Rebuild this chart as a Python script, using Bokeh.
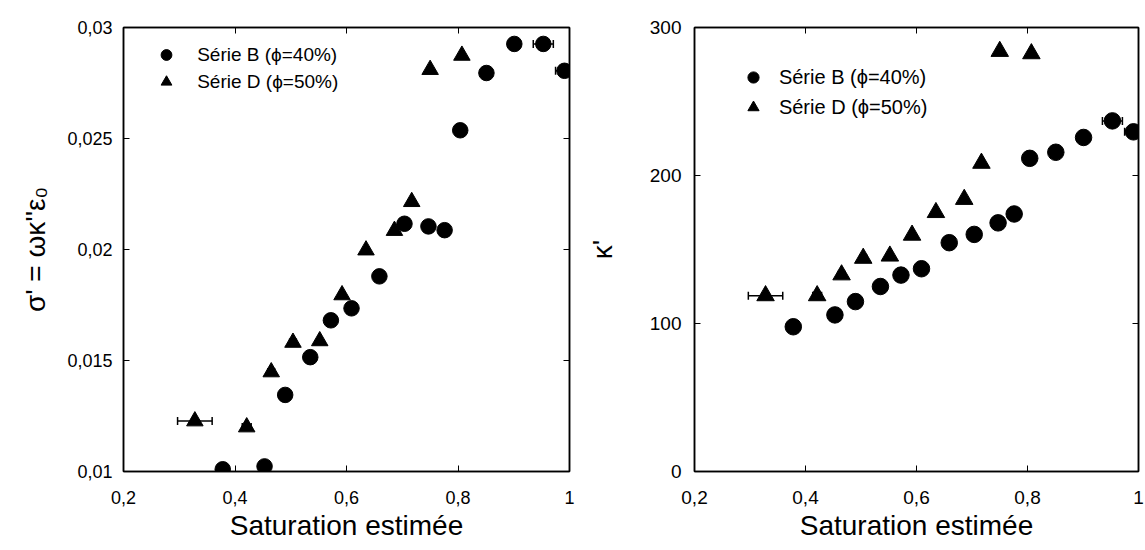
from bokeh.plotting import figure
from bokeh.layouts import row
from bokeh.models import (ColumnDataSource, FixedTicker, LinearAxis, Whisker, TeeHead,
                          Legend, LegendItem, Range1d, CustomJSTickFormatter)
from bokeh.embed import file_html
from bokeh.resources import INLINE

# ---------------- data ----------------
sat_B = [0.378, 0.453, 0.490, 0.535, 0.572, 0.609, 0.659, 0.704, 0.747, 0.776,
         0.804, 0.851, 0.901, 0.953, 0.991]
sat_D = [0.328, 0.421, 0.465, 0.504, 0.552, 0.592, 0.635, 0.686, 0.717, 0.750, 0.807]

sigma_B = [0.0101, 0.01023, 0.01345, 0.01515, 0.01681, 0.01735, 0.01879, 0.02116,
           0.02104, 0.02087, 0.02537, 0.02795, 0.02926, 0.02926, 0.02805]
sigma_D = [0.01227, 0.0120, 0.01448, 0.01581, 0.01588, 0.01795, 0.01997, 0.02085,
           0.02215, 0.0281, 0.02874]

kappa_B = [97.8, 105.8, 114.8, 125.0, 132.7, 137.0, 154.6, 160.2, 168.0, 174.0,
           211.6, 215.7, 225.7, 236.9, 229.5]
kappa_D = [118.8, 118.8, 132.9, 144.1, 145.6, 159.7, 175.0, 183.9, 208.3, 283.9, 282.3]

err_B = [0, 0, 0, 0, 0, 0, 0, 0, 0, 0, 0, 0, 0, 0.018, 0.016]
err_D = [0.031, 0.008, 0.006, 0.006, 0, 0, 0, 0, 0, 0, 0]

x_ticks = [0.2, 0.4, 0.6, 0.8, 1.0]
x_tick_labels = ["0,2", "0,4", "0,6", "0,8", "1"]
sigma_ticks = [0.01, 0.015, 0.02, 0.025, 0.03]
sigma_tick_labels = ["0,01", "0,015", "0,02", "0,025", "0,03"]
kappa_ticks = [0, 100, 200, 300]
kappa_tick_labels = ["0", "100", "200", "300"]

label_B = "Série B (ϕ=40%)"
label_D = "Série D (ϕ=50%)"
x_title = "Saturation estimée"
sigma_title = "σ' = ωκ''ε₀"
kappa_title = "κ'"

FONT = "Liberation Sans"


def err_source(xs, ys, errs):
    keep = [i for i, e in enumerate(errs) if e > 0]
    return ColumnDataSource(dict(
        y=[ys[i] for i in keep],
        lo=[xs[i] - errs[i] for i in keep],
        hi=[xs[i] + errs[i] for i in keep]))


def make_fig(width, height, borders, y_range, yticks, ylabels, ytitle, yB, yD,
             tick_fs, y_tick_standoff, circ, tri, legend_fs, legend_loc, glyph_h,
             lstandoff, y_title_standoff):
    p = figure(width=width, height=height, output_backend="svg", toolbar_location=None,
               x_range=Range1d(0.2, 1.0), y_range=Range1d(*y_range),
               min_border_left=borders[0], min_border_right=borders[1],
               min_border_top=borders[2], min_border_bottom=borders[3])
    p.xgrid.visible = False
    p.ygrid.visible = False
    p.outline_line_color = "black"
    p.outline_line_width = 1.5
    p.background_fill_color = "white"
    p.border_fill_color = "white"

    xa = p.xaxis[0]
    ya = p.yaxis[0]
    xa.ticker = FixedTicker(ticks=x_ticks)
    xa.major_label_overrides = dict(zip(x_ticks, x_tick_labels))
    ya.ticker = FixedTicker(ticks=yticks)
    ya.major_label_overrides = dict(zip(yticks, ylabels))
    for ax in (xa, ya):
        ax.major_tick_in = 6
        ax.major_tick_out = 0
        ax.minor_tick_in = 0
        ax.minor_tick_out = 0
        ax.axis_line_color = "black"
        ax.axis_line_width = 1.5
        ax.major_tick_line_width = 1
        ax.major_label_text_font = FONT
        ax.major_label_text_font_size = tick_fs
        ax.major_label_text_color = "black"
        ax.axis_label_text_font = FONT
        ax.axis_label_text_font_style = "normal"
        ax.axis_label_text_font_size = "28px"
        ax.axis_label_text_color = "black"
    xa.major_label_standoff = 19
    ya.major_label_standoff = y_tick_standoff
    xa.axis_label = x_title
    xa.axis_label_standoff = 3
    ya.axis_label = ytitle
    ya.axis_label_standoff = y_title_standoff

    # mirrored ticks on top and right
    for loc, ticks in (("above", x_ticks), ("right", yticks)):
        ax = LinearAxis(ticker=FixedTicker(ticks=ticks),
                        formatter=CustomJSTickFormatter(code="return ''"))
        ax.major_tick_in = 6
        ax.major_tick_out = 0
        ax.minor_tick_in = 0
        ax.minor_tick_out = 0
        ax.major_label_standoff = 0
        ax.major_label_text_font_size = "0px"
        ax.axis_line_color = "black"
        ax.axis_line_width = 1.5
        p.add_layout(ax, loc)

    # error bars
    for xs, ys, es in ((sat_B, yB, err_B), (sat_D, yD, err_D)):
        src = err_source(xs, ys, es)
        if len(src.data["y"]):
            w = Whisker(base="y", lower="lo", upper="hi", dimension="width", source=src,
                        line_color="black", line_width=1.5,
                        upper_head=TeeHead(size=8, line_width=1.5, line_color="black"),
                        lower_head=TeeHead(size=8, line_width=1.5, line_color="black"))
            p.add_layout(w)

    rB = p.scatter(sat_B, yB, marker="circle", size=circ, fill_color="black",
                   line_color="black")
    rD = p.scatter(sat_D, yD, marker="triangle", size=tri, fill_color="black",
                   line_color="black")

    leg = Legend(items=[LegendItem(label=label_B, renderers=[rB]),
                        LegendItem(label=label_D, renderers=[rD])],
                 location=legend_loc, padding=10, spacing=0, margin=0,
                 glyph_height=glyph_h, glyph_width=28, label_height=20,
                 label_standoff=lstandoff, border_line_color=None,
                 background_fill_alpha=0, label_text_font=FONT,
                 label_text_font_size=legend_fs, label_text_color="black")
    p.add_layout(leg)
    return p


p1 = make_fig(583, 550, (123, 14, 19, 79), (0.01, 0.03), sigma_ticks, sigma_tick_labels,
              sigma_title, sigma_B, sigma_D, "18px", 11, 15.5, 16.5, "19px",
              (29.2, 376), 27, 17, 13)
p2 = make_fig(562, 550, (110, 7, 27, 78), (0, 300), kappa_ticks, kappa_tick_labels,
              kappa_title, kappa_B, kappa_D, "19px", 13, 16.5, 17.5, "20px",
              (44.9, 349), 30, 12, 29)

layout = row(p1, p2)
open("out.html", "w").write(file_html(layout, INLINE))
